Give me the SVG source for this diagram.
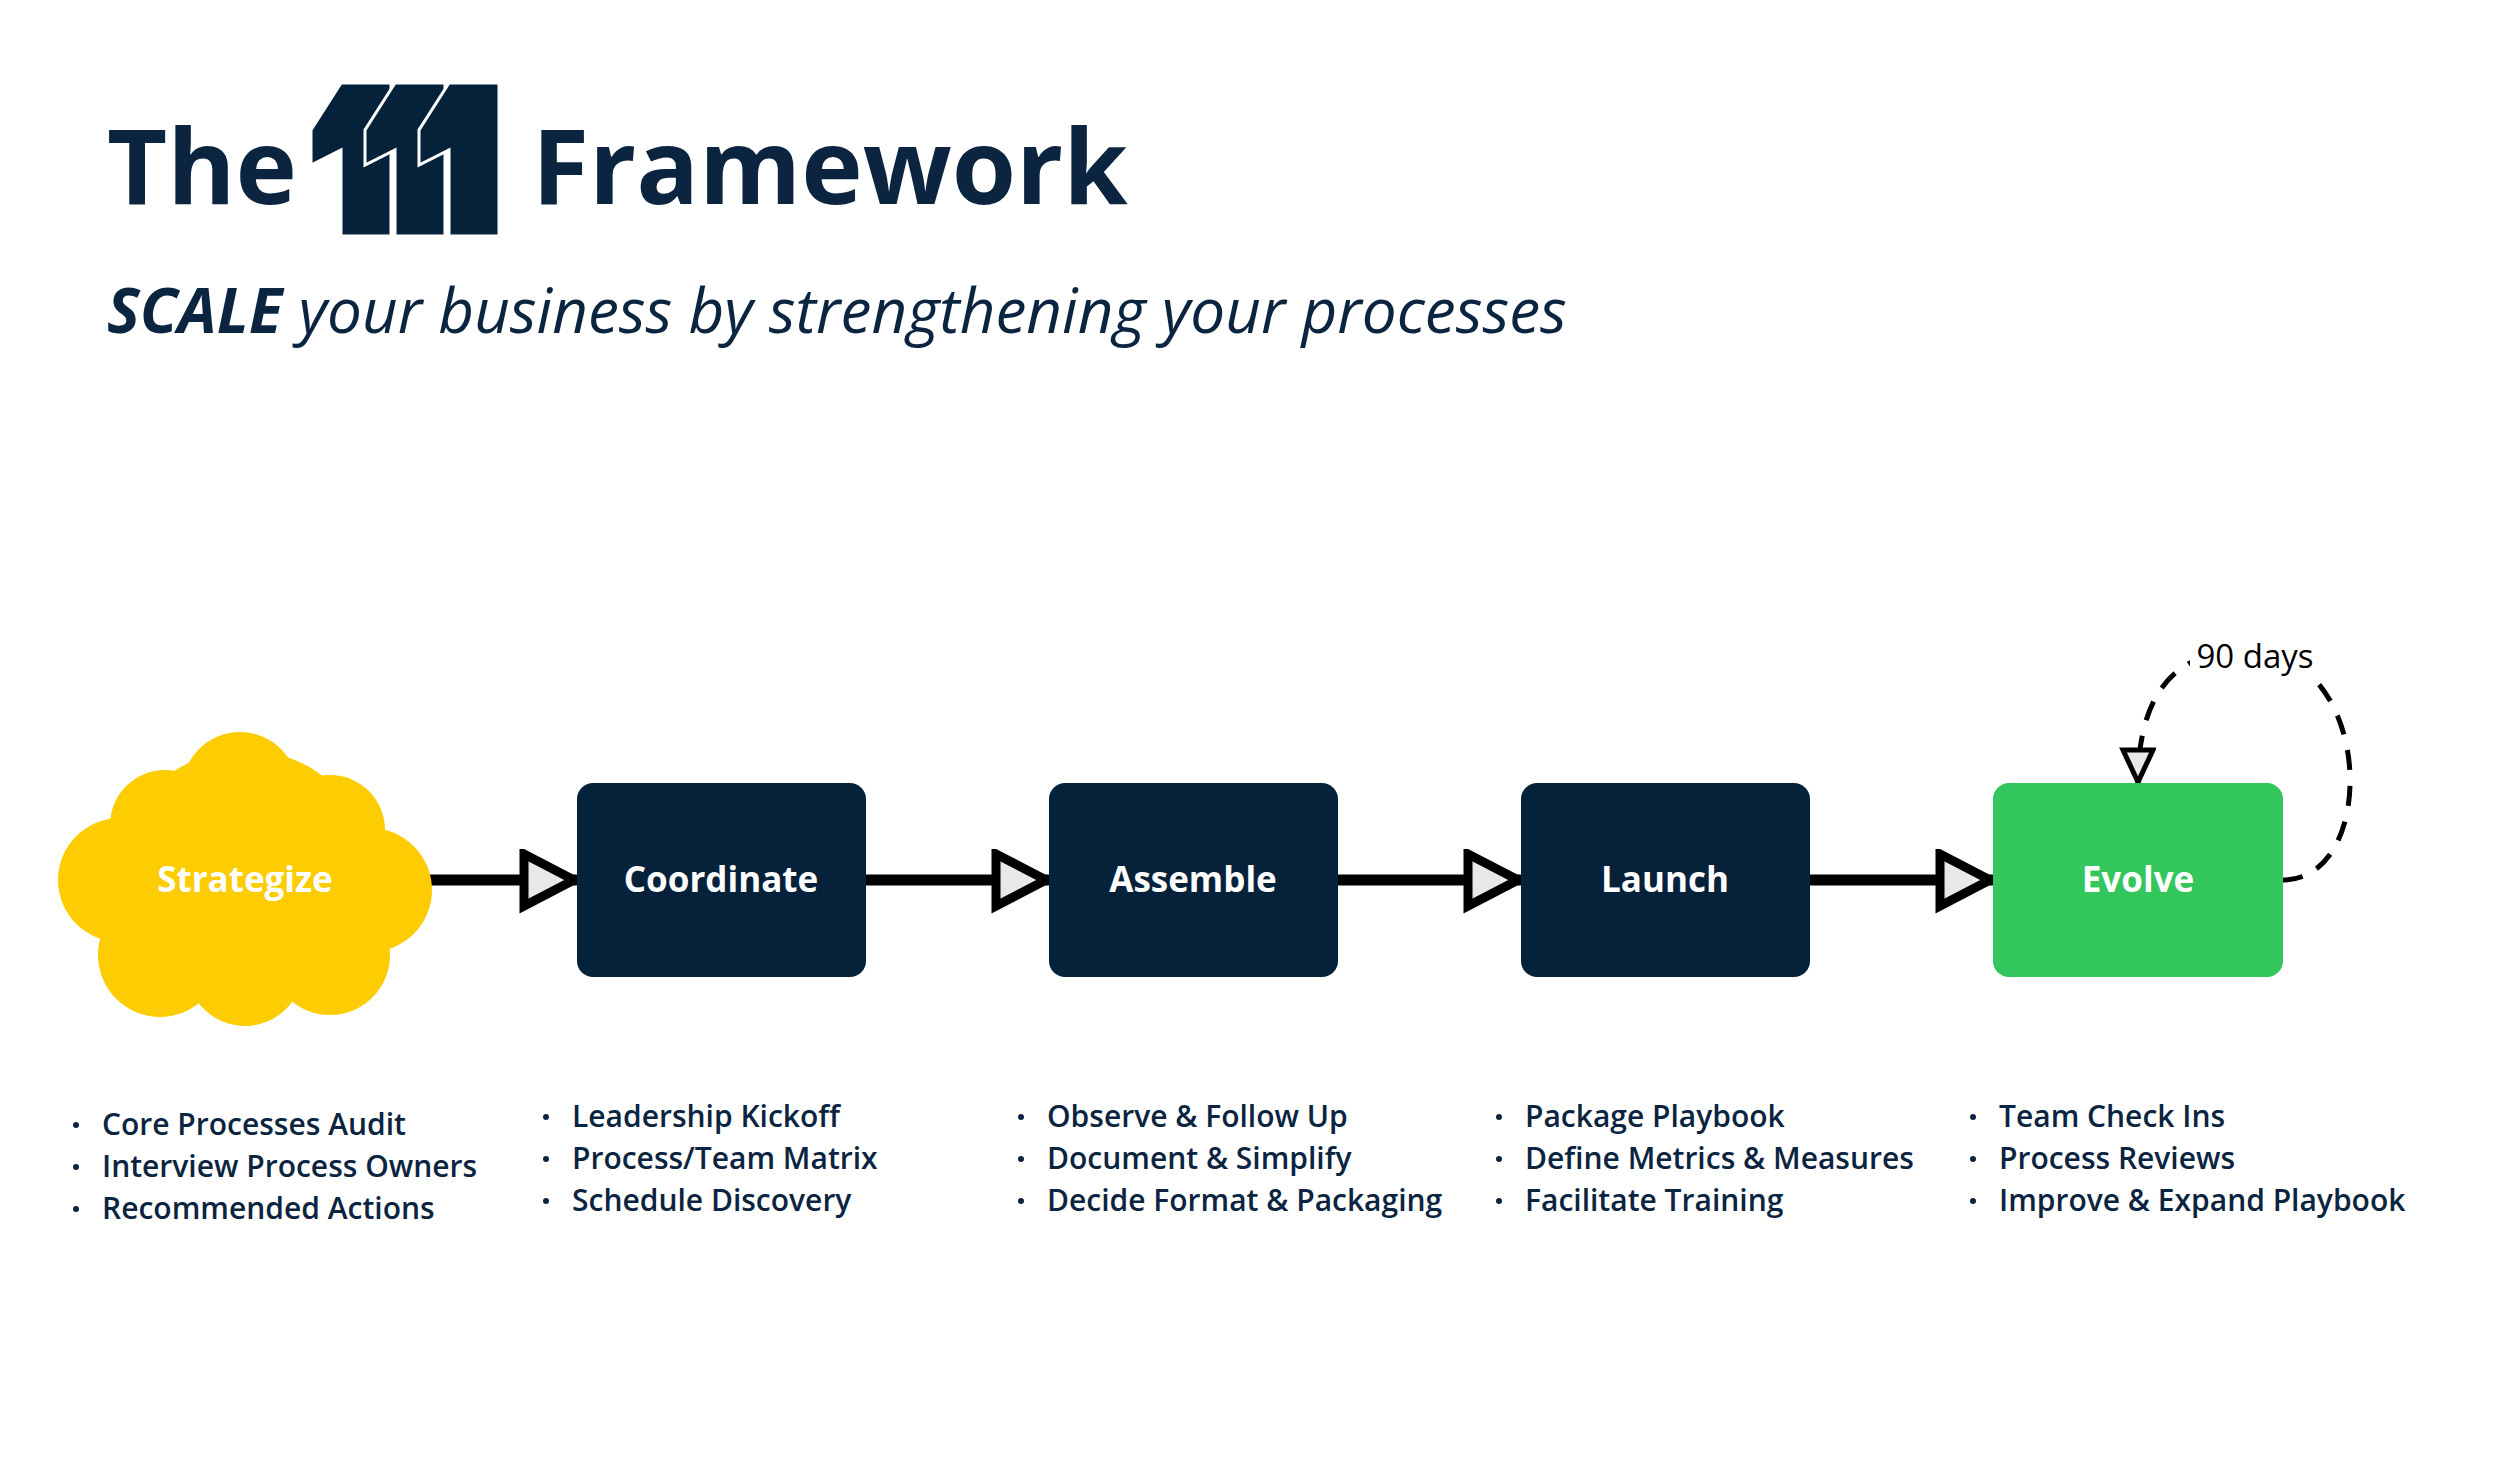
<svg xmlns="http://www.w3.org/2000/svg" width="2500" height="1476" viewBox="0 0 2500 1476">
<style>
.t{font-family:"Open Sans","Noto Sans",sans-serif;fill:#0b2440}
.lbl{font-family:"Open Sans","Noto Sans",sans-serif;font-weight:700;font-size:35px;fill:#ffffff;text-anchor:middle}
.li{font-family:"Open Sans","Noto Sans",sans-serif;font-weight:600;font-size:30px;fill:#0b2440}
.box{fill:#06223b}
.con{stroke:#000;stroke-width:11;fill:none}
.bul{fill:#0b2440}
</style>
<defs>
<marker id="ah" markerUnits="userSpaceOnUse" markerWidth="70" markerHeight="70" refX="58" refY="31" orient="auto">
<polygon points="5,5 55,31 5,57" fill="#e8e8e8" stroke="#000" stroke-width="9" stroke-linejoin="miter"/>
</marker>
<marker id="ah2" markerUnits="userSpaceOnUse" markerWidth="50" markerHeight="50" refX="36" refY="18" orient="auto">
<polygon points="3,3 35,18 3,33" fill="#e8e8e8" stroke="#000" stroke-width="5"/>
</marker>
</defs>
<rect width="2500" height="1476" fill="#fff"/>
<g id="title">
<text class="t" x="107" y="204" font-size="104" font-weight="700">The</text>
<g fill="#06223b" stroke="#fff" stroke-width="3">
<polygon points="341,83 391,83 391,236 341,236 341,150 311,165 311,130"/>
<polygon points="395,83 445,83 445,236 395,236 395,150 365,165 365,130"/>
<polygon points="449,83 499,83 499,236 449,236 449,150 419,165 419,130"/>
</g>
<text class="t" x="532" y="204" font-size="104" font-weight="700">Framework</text>
<text class="t" x="107" y="333" font-size="62" font-style="italic"><tspan font-weight="700">SCALE</tspan> your business by strengthening your processes</text>
</g>
<g id="connectors">
<line class="con" x1="430" y1="880" x2="577" y2="880" marker-end="url(#ah)"/>
<line class="con" x1="866" y1="880" x2="1049" y2="880" marker-end="url(#ah)"/>
<line class="con" x1="1338" y1="880" x2="1521" y2="880" marker-end="url(#ah)"/>
<line class="con" x1="1810" y1="880" x2="1993" y2="880" marker-end="url(#ah)"/>
<path d="M2283,880 C2380,880 2375,650 2247,650 C2170,650 2138,700 2138,783" fill="none" stroke="#000" stroke-width="5" stroke-dasharray="20 16" marker-end="url(#ah2)"/>
<rect x="2190" y="630" width="130" height="50" fill="#fff"/>
<text x="2255" y="668" font-family="Open Sans, Noto Sans, sans-serif" font-size="33" fill="#000" text-anchor="middle">90 days</text>
</g>
<g id="strategize">
<g fill="#fdcc02">
<circle cx="240" cy="790" r="58"/><circle cx="165" cy="825" r="55"/><circle cx="330" cy="830" r="55"/>
<circle cx="120" cy="880" r="62"/><circle cx="370" cy="890" r="62"/><circle cx="160" cy="955" r="62"/>
<circle cx="245" cy="968" r="58"/><circle cx="330" cy="955" r="60"/><circle cx="245" cy="880" r="130"/>
</g>
<text class="lbl" x="245" y="892">Strategize</text>
</g>
<g id="coordinate"><rect class="box" x="577" y="783" width="289" height="194" rx="16"/><text class="lbl" x="721" y="892">Coordinate</text></g>
<g id="assemble"><rect class="box" x="1049" y="783" width="289" height="194" rx="16"/><text class="lbl" x="1193" y="892">Assemble</text></g>
<g id="launch"><rect class="box" x="1521" y="783" width="289" height="194" rx="16"/><text class="lbl" x="1665" y="892">Launch</text></g>
<g id="evolve"><rect x="1993" y="783" width="290" height="194" rx="16" fill="#33c65c"/><text class="lbl" x="2138" y="892">Evolve</text></g>
<g id="list-strategize">
<circle class="bul" cx="76" cy="1125" r="3"/><text class="li" x="102" y="1135">Core Processes Audit</text>
<circle class="bul" cx="76" cy="1167" r="3"/><text class="li" x="102" y="1177">Interview Process Owners</text>
<circle class="bul" cx="76" cy="1209" r="3"/><text class="li" x="102" y="1219">Recommended Actions</text>
</g>
<g id="list-coordinate">
<circle class="bul" cx="546" cy="1117" r="3"/><text class="li" x="572" y="1127">Leadership Kickoff</text>
<circle class="bul" cx="546" cy="1159" r="3"/><text class="li" x="572" y="1169">Process/Team Matrix</text>
<circle class="bul" cx="546" cy="1201" r="3"/><text class="li" x="572" y="1211">Schedule Discovery</text>
</g>
<g id="list-assemble">
<circle class="bul" cx="1021" cy="1117" r="3"/><text class="li" x="1047" y="1127">Observe &amp; Follow Up</text>
<circle class="bul" cx="1021" cy="1159" r="3"/><text class="li" x="1047" y="1169">Document &amp; Simplify</text>
<circle class="bul" cx="1021" cy="1201" r="3"/><text class="li" x="1047" y="1211">Decide Format &amp; Packaging</text>
</g>
<g id="list-launch">
<circle class="bul" cx="1499" cy="1117" r="3"/><text class="li" x="1525" y="1127">Package Playbook</text>
<circle class="bul" cx="1499" cy="1159" r="3"/><text class="li" x="1525" y="1169">Define Metrics &amp; Measures</text>
<circle class="bul" cx="1499" cy="1201" r="3"/><text class="li" x="1525" y="1211">Facilitate Training</text>
</g>
<g id="list-evolve">
<circle class="bul" cx="1973" cy="1117" r="3"/><text class="li" x="1999" y="1127">Team Check Ins</text>
<circle class="bul" cx="1973" cy="1159" r="3"/><text class="li" x="1999" y="1169">Process Reviews</text>
<circle class="bul" cx="1973" cy="1201" r="3"/><text class="li" x="1999" y="1211">Improve &amp; Expand Playbook</text>
</g>
</svg>
